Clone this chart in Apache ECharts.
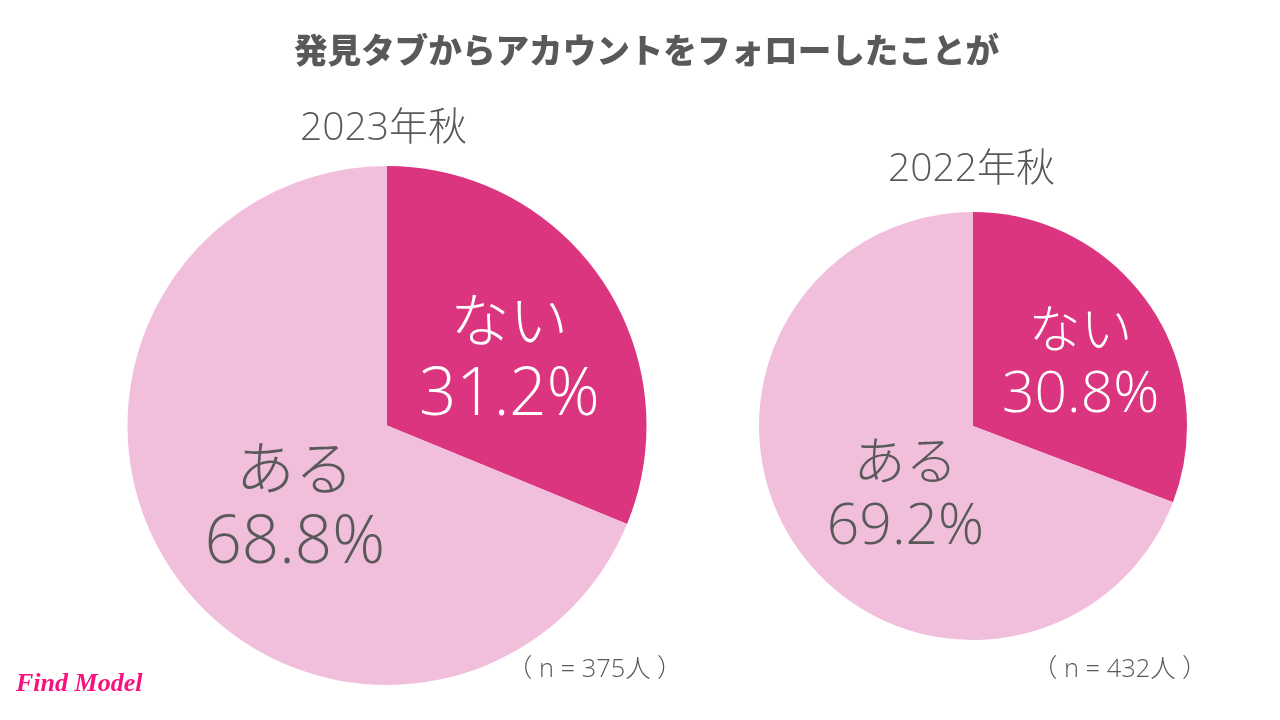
<!DOCTYPE html>
<html><head><meta charset="utf-8">
<style>html,body{margin:0;padding:0;background:#fff}#c{width:1280px;height:720px}</style>
<script src="https://cdn.jsdelivr.net/npm/echarts@6/dist/echarts.min.js"></script>
</head><body><div id="c"></div>
<script>
const categories = ['ない', 'ある'];
const values2023 = [31.2, 68.8];
const values2022 = [30.8, 69.2];
const colors = ['#DB3580', '#F1BFDB'];
const jp = '"Open Sans","Noto Sans CJK JP",sans-serif';
const grey = '#595959';
function pie(center, radius, vals, fs, numFs, lh, offsets){
  return {type:'pie',center:center,radius:[0,radius],startAngle:90,clockwise:true,silent:true,
    labelLine:{show:false},
    data:categories.map((n,i)=>({name:n,value:vals[i],itemStyle:{color:colors[i]},
      label:{show:true,position:'inside',offset:offsets[i],formatter:p=>'{a|'+p.name+'}\n{b|'+p.value.toFixed(1)+'%}',
        rich:{a:{color:i===0?'#fff':grey,fontFamily:jp,fontWeight:300,fontSize:fs,lineHeight:lh},
              b:{color:i===0?'#fff':grey,fontFamily:jp,fontWeight:300,fontSize:numFs,lineHeight:lh}}}}))};
}
function txt(x,y,s,fs,w,c){return {type:'text',left:x,top:y,style:{text:s,fontSize:fs,fontWeight:w||300,fill:c||grey,fontFamily:jp}};}
const chart = echarts.init(document.getElementById('c'),null,{renderer:'canvas'});
chart.setOption({animation:false,
  title:{text:'発見タブからアカウントをフォローしたことが',left:289,top:28,
    textStyle:{color:grey,fontFamily:'"Noto Sans CJK JP"',fontWeight:900,fontSize:33.6}},
  series:[pie([387,425.5],259.5,values2023,59,65.5,71,[[12,9],[18,9]]),pie([973,426],214,values2022,52,57,62,[[17,1],[23,8]])],
  graphic:[
    txt(300,109,'2023年秋',39),txt(888,150,'2022年秋',39),
    txt(507,657,'（ n = 375人 ）',25.4),txt(1032,657,'（ n = 432人 ）',25.4),
    {type:'text',left:16,top:671,style:{text:'Find Model',fontSize:26,fontWeight:700,fontStyle:'italic',fill:'#F5127F',fontFamily:'"Liberation Serif"'}}
  ]});
</script></body></html>
